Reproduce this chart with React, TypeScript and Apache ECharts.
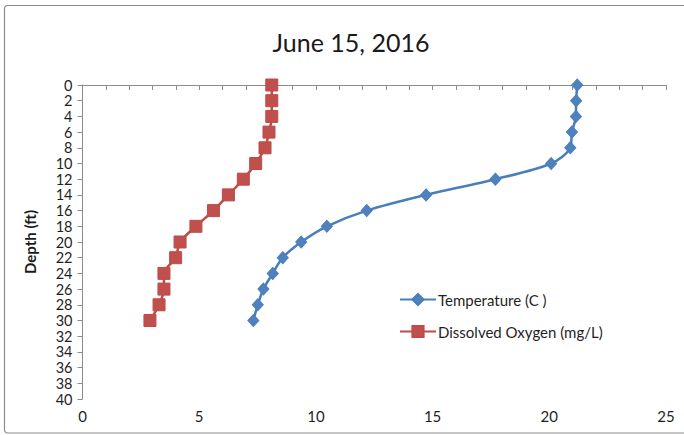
import React, { useEffect, useRef } from "react";
import * as echarts from "echarts";

const depths = [0, 2, 4, 6, 8, 10, 12, 14, 16, 18, 20, 22, 24, 26, 28, 30];
const temperature = [21.2, 21.15, 21.14, 20.97, 20.9, 20.08, 17.69, 14.72, 12.18, 10.47, 9.37, 8.58, 8.15, 7.75, 7.51, 7.32];
const dissolvedOxygen = [8.11, 8.11, 8.11, 7.99, 7.82, 7.42, 6.89, 6.25, 5.61, 4.86, 4.18, 3.99, 3.49, 3.49, 3.28, 2.89];
const titleText = "June 15, 2016";
const yAxisTitle = "Depth (ft)";
const seriesNames = ["Temperature (C )", "Dissolved Oxygen (mg/L)"];

const FONT = "Lato, 'Open Sans', sans-serif";

export default function App() {
  const ref = useRef<HTMLDivElement>(null);
  useEffect(() => {
    document.body.style.margin = "0";
    const chart = echarts.init(ref.current!, null, { renderer: "svg" });
    chart.setOption({
      animation: false,
      backgroundColor: "#ffffff",
      textStyle: { fontFamily: FONT },
      title: {
        text: titleText,
        left: 346,
        top: 24,
        textAlign: "center",
        textStyle: { fontFamily: FONT, fontSize: 25, fontWeight: "normal", color: "#1a1a1a" },
      },
      graphic: [
        {
          type: "rect",
          shape: { x: 4.5, y: 5.5, width: 690, height: 427.5, r: 3 },
          style: { fill: "none", stroke: "#8c8c8c", lineWidth: 1.2 },
          silent: true,
        },
      ],
      legend: {
        orient: "vertical",
        left: 394,
        top: 287,
        itemWidth: 36,
        itemHeight: 14,
        itemGap: 17,
        textStyle: { fontFamily: FONT, fontSize: 15, color: "#1f1f1f", padding: [0, 0, 0, -3] },
        data: seriesNames,
      },
      grid: { left: 82.5, right: 18, top: 85, bottom: 36, containLabel: false },
      xAxis: {
        type: "value",
        min: 0,
        max: 25,
        interval: 5,
        axisLine: { show: true, lineStyle: { color: "#8c8c8c", width: 1 } },
        axisTick: { show: true, length: 5, lineStyle: { color: "#8c8c8c" } },
        minorTick: { show: true, splitNumber: 5, length: 5, lineStyle: { color: "#8c8c8c" } },
        splitLine: { show: false },
        axisLabel: { fontFamily: FONT, fontSize: 15, color: "#1f1f1f", margin: 9 },
      },
      yAxis: {
        type: "value",
        inverse: true,
        min: 0,
        max: 40,
        interval: 2,
        name: yAxisTitle,
        nameLocation: "middle",
        nameGap: 45,
        nameRotate: 90,
        nameTextStyle: { fontFamily: FONT, fontSize: 15, fontWeight: "bold", color: "#1a1a1a" },
        axisLine: { show: true, lineStyle: { color: "#8c8c8c", width: 1 } },
        axisTick: { show: true, length: 5, lineStyle: { color: "#8c8c8c" } },
        splitLine: { show: false },
        axisLabel: { fontFamily: FONT, fontSize: 14.5, lineHeight: 14, color: "#1f1f1f", margin: 10 },
      },
      series: [
        {
          name: seriesNames[0],
          type: "line",
          smooth: 0.3,
          data: depths.map((d, i) => [temperature[i], d]),
          symbol: "diamond",
          symbolSize: [11, 12],
          showSymbol: true,
          showAllSymbol: true,
          lineStyle: { color: "#4a7ebb", width: 2.5 },
          itemStyle: { color: "#4f81bd", borderColor: "#4a7ebb", borderWidth: 1 },
          z: 3,
        },
        {
          name: seriesNames[1],
          type: "line",
          smooth: 0.3,
          data: depths.map((d, i) => [dissolvedOxygen[i], d]),
          symbol: "rect",
          symbolSize: 12,
          showSymbol: true,
          showAllSymbol: true,
          lineStyle: { color: "#be4b48", width: 2.5 },
          itemStyle: { color: "#c0504d", borderColor: "#be4b48", borderWidth: 1 },
          z: 2,
        },
      ],
    });
    return () => chart.dispose();
  }, []);
  return (
    <div
      ref={ref}
      style={{ position: "absolute", left: 0, top: 0, width: 684, height: 435 }}
    />
  );
}
